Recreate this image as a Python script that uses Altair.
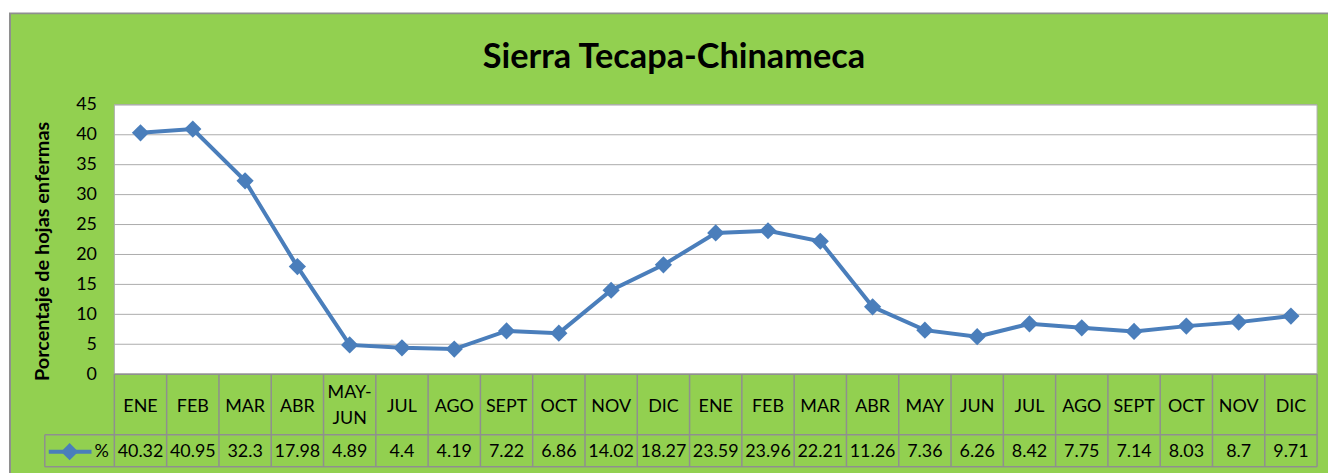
import altair as alt
import pandas as pd

# ---- data ----
months = ["ENE", "FEB", "MAR", "ABR", "MAY-\nJUN", "JUL", "AGO", "SEPT", "OCT", "NOV", "DIC",
          "ENE", "FEB", "MAR", "ABR", "MAY", "JUN", "JUL", "AGO", "SEPT", "OCT", "NOV", "DIC"]
values = [40.32, 40.95, 32.3, 17.98, 4.89, 4.4, 4.19, 7.22, 6.86, 14.02, 18.27,
          23.59, 23.96, 22.21, 11.26, 7.36, 6.26, 8.42, 7.75, 7.14, 8.03, 8.7, 9.71]
y_ticks = [0, 5, 10, 15, 20, 25, 30, 35, 40, 45]
title_text = "Sierra Tecapa-Chinameca"
y_title = "Porcentaje de hojas enfermas"
series_name = "%"

df = pd.DataFrame({
    "idx": list(range(len(months))),
    "month": months,
    "value": values,
    "label": [str(v) for v in values],
})
one = pd.DataFrame({"k": [0]})
ticks_df = pd.DataFrame({"tick": y_ticks})

FONT = "Lato"
GREEN = "#92D050"
BLUE = "#4A7EBB"
GRID = "#ABABAB"
BORDER = "#8F8F8F"

W, H = 1210, 271
HEADER_BOTTOM = 332
TABLE_BOTTOM = 364
KEY_LEFT = -70

xs = alt.X("idx:O", axis=None, scale=alt.Scale(type="band", paddingInner=0, paddingOuter=0))
ys = alt.Scale(domain=[0, 45], nice=False, zero=True)
yaxis = alt.Axis(values=y_ticks, grid=False, ticks=False, tickSize=0, domain=False,
                 zindex=1, labelOverlap=False, labelFlush=False, labelBound=False,
                 labelFont=FONT, labelFontSize=18, labelColor="black", labelPadding=18,
                 title=y_title, titleFont=FONT, titleFontSize=20, titleFontWeight="bold",
                 titleColor="black", titleAngle=270, titleX=-72, titleY=147,
                 titleAlign="center", titleBaseline="middle")

# chart area background with border
bg = alt.Chart(one).mark_rect(fill=GREEN, stroke=BORDER, strokeWidth=2).encode(
    x=alt.value(-105), x2=alt.value(1240), y=alt.value(-92), y2=alt.value(390))

plot_bg = alt.Chart(one).mark_rect(fill="white", stroke=GRID, strokeWidth=1).encode(
    x=alt.value(0), x2=alt.value(W), y=alt.value(0), y2=alt.value(H))

grid = alt.Chart(ticks_df).mark_rule(color=GRID, strokeWidth=1).encode(
    y=alt.Y("tick:Q", scale=ys, axis=yaxis))

# data table lines
h1 = alt.Chart(one).mark_rule(color=BORDER, strokeWidth=1.5).encode(
    x=alt.value(KEY_LEFT), x2=alt.value(W), y=alt.value(HEADER_BOTTOM))
h2 = alt.Chart(one).mark_rule(color=BORDER, strokeWidth=1.5).encode(
    x=alt.value(KEY_LEFT), x2=alt.value(W), y=alt.value(TABLE_BOTTOM))
h0 = alt.Chart(one).mark_rule(color=BORDER, strokeWidth=1.5).encode(
    x=alt.value(0), x2=alt.value(W), y=alt.value(H))
vkey = alt.Chart(one).mark_rule(color=BORDER, strokeWidth=1.5).encode(
    x=alt.value(KEY_LEFT), y=alt.value(HEADER_BOTTOM), y2=alt.value(TABLE_BOTTOM))
vright = alt.Chart(one).mark_rule(color=BORDER, strokeWidth=1.5).encode(
    x=alt.value(W), y=alt.value(H), y2=alt.value(TABLE_BOTTOM))
vcols = alt.Chart(df).mark_rule(color=BORDER, strokeWidth=1.5).encode(
    x=alt.X("idx:O", axis=None, bandPosition=0,
            scale=alt.Scale(type="band", paddingInner=0, paddingOuter=0)),
    y=alt.value(H), y2=alt.value(TABLE_BOTTOM))

line = alt.Chart(df).mark_line(color=BLUE, strokeWidth=4).encode(
    x=xs, y=alt.Y("value:Q", scale=ys, axis=yaxis))
pts = alt.Chart(df).mark_point(shape="diamond", filled=True, size=300, color=BLUE, opacity=1).encode(
    x=xs, y=alt.Y("value:Q", scale=ys, axis=yaxis))

header1 = alt.Chart(df).transform_filter(
    "indexof(datum.month, '\\n') < 0"
).mark_text(font=FONT, fontSize=18, color="black", baseline="middle", align="center").encode(
    x=xs, y=alt.value(304), text="month:N")
header2 = alt.Chart(df).transform_filter(
    "indexof(datum.month, '\\n') >= 0"
).mark_text(font=FONT, fontSize=18, color="black", lineBreak="\n", lineHeight=26,
            baseline="middle", align="center").encode(
    x=xs, y=alt.value(290), text="month:N")
row = alt.Chart(df).mark_text(font=FONT, fontSize=18, color="black",
                              baseline="middle", align="center").encode(
    x=xs, y=alt.value(349), text="label:N")

key_line = alt.Chart(one).mark_rule(color=BLUE, strokeWidth=4).encode(
    x=alt.value(-66), x2=alt.value(-23), y=alt.value(349))
key_pt = alt.Chart(one).mark_point(shape="diamond", filled=True, size=300, color=BLUE, opacity=1).encode(
    x=alt.value(-45), y=alt.value(349))
key_txt = alt.Chart(pd.DataFrame({"name": [series_name]})).mark_text(
    font=FONT, fontSize=18, color="black", baseline="middle", align="left").encode(
    x=alt.value(-20), y=alt.value(349), text="name:N")

title = alt.Chart(pd.DataFrame({"t": [title_text]})).mark_text(
    font=FONT, fontSize=34.5, fontWeight="bold", color="black", align="center",
    baseline="alphabetic").encode(x=alt.value(563), y=alt.value(-37), text="t:N")

chart = alt.layer(
    bg, plot_bg, grid, h0, h1, h2, vkey, vright, vcols, line, pts, header1, header2, row,
    key_line, key_pt, key_txt, title
).properties(
    width=W, height=H,
    autosize=alt.AutoSizeParams(type="none"),
    padding={"left": 107, "top": 96, "right": 11, "bottom": 98},
).configure(background="white").configure_view(stroke=None)

chart.save("out.html", embed_options={"renderer": "svg", "actions": False})
